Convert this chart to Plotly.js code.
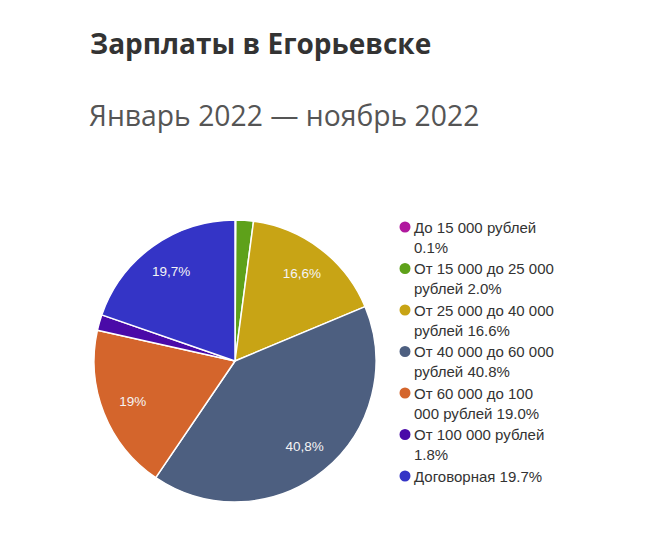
<!DOCTYPE html>
<html>
<head>
<meta charset="utf-8">
<script src="https://cdn.plot.ly/plotly-3.0.1.min.js"></script>
<style>html,body{margin:0;padding:0;background:#fff;}#chart{width:650px;height:560px;}</style>
</head>
<body>
<div id="chart"></div>
<script>
const titleText = "Зарплаты в Егорьевске";
const subtitleText = "Январь 2022 — ноябрь 2022";
const categories = ["До 15 000 рублей", "От 15 000 до 25 000 рублей", "От 25 000 до 40 000 рублей", "От 40 000 до 60 000 рублей", "От 60 000 до 100 000 рублей", "От 100 000 рублей", "Договорная"];
const legendText = ["До 15 000 рублей<br>0.1%", "От 15 000 до 25 000<br>рублей 2.0%", "От 25 000 до 40 000<br>рублей 16.6%", "От 40 000 до 60 000<br>рублей 40.8%", "От 60 000 до 100<br>000 рублей 19.0%", "От 100 000 рублей<br>1.8%", "Договорная 19.7%"];
const values = [0.1, 2.0, 16.6, 40.8, 19.0, 1.8, 19.7];
const colors = ["#b0189e", "#5ea11a", "#c8a415", "#4d5f80", "#d4652c", "#4a0aa8", "#3434c6"];

const W = 650, H = 560;
const sliceText = values.map(v => v >= 5 ? v.toFixed(1).replace(/\.0$/, '').replace('.', ',') + '%' : '');

const cx = 235, cy = 361, r = 141;
const domain = {x: [(cx - r) / W, (cx + r) / W], y: [1 - (cy + r) / H, 1 - (cy - r) / H]};
const pie = {
  type: 'pie',
  labels: categories,
  values: values,
  textinfo: 'none',
  sort: false,
  direction: 'clockwise',
  rotation: 0,
  marker: {colors: colors, line: {color: '#ffffff', width: 1.5}},
  hoverinfo: 'label+percent',
  showlegend: false,
  domain: domain
};
const labelRing = {
  type: 'pie',
  labels: categories,
  values: values,
  text: sliceText,
  textinfo: 'text',
  textposition: 'inside',
  insidetextorientation: 'horizontal',
  hole: 0.56,
  sort: false,
  direction: 'clockwise',
  rotation: 0,
  marker: {colors: colors.map(() => 'rgba(0,0,0,0)'), line: {width: 0}},
  textfont: {family: 'Arial, "Liberation Sans", sans-serif', size: 13.5, color: '#f4f4f4'},
  hoverinfo: 'skip',
  showlegend: false,
  domain: domain
};

const shapes = [];
const annotations = [
  {text: '<b>' + titleText + '</b>', xref: 'paper', yref: 'paper', x: 88 / W, y: 1 - 43 / H, xanchor: 'left', yanchor: 'middle', showarrow: false,
   font: {family: '"Open Sans", sans-serif', size: 28, color: '#333333'}},
  {text: subtitleText, xref: 'paper', yref: 'paper', x: 87 / W, y: 1 - 115 / H, xanchor: 'left', yanchor: 'middle', showarrow: false,
   font: {family: '"Open Sans", sans-serif', size: 28.3, color: '#555555'}}
];
const legX = 405, legY0 = 227, legStep = 41.5, dotR = 5.5;
legendText.forEach((t, i) => {
  const y = legY0 + i * legStep;
  shapes.push({type: 'circle', xref: 'paper', yref: 'paper',
    x0: (legX - dotR) / W, x1: (legX + dotR) / W, y0: 1 - (y + dotR) / H, y1: 1 - (y - dotR) / H,
    fillcolor: colors[i], line: {width: 0}});
  annotations.push({text: t, xref: 'paper', yref: 'paper', x: (legX + 7) / W, y: 1 - (y - 10.5) / H,
    xanchor: 'left', yanchor: 'top', align: 'left', showarrow: false,
    font: {family: 'Arial, "Liberation Sans", sans-serif', size: 15, color: '#333333'}});
});

const layout = {
  width: W, height: H,
  margin: {l: 0, r: 0, t: 0, b: 0},
  paper_bgcolor: '#ffffff',
  showlegend: false,
  shapes: shapes,
  annotations: annotations
};
Plotly.newPlot('chart', [pie, labelRing], layout, {displayModeBar: false, staticPlot: true});
</script>
</body>
</html>
